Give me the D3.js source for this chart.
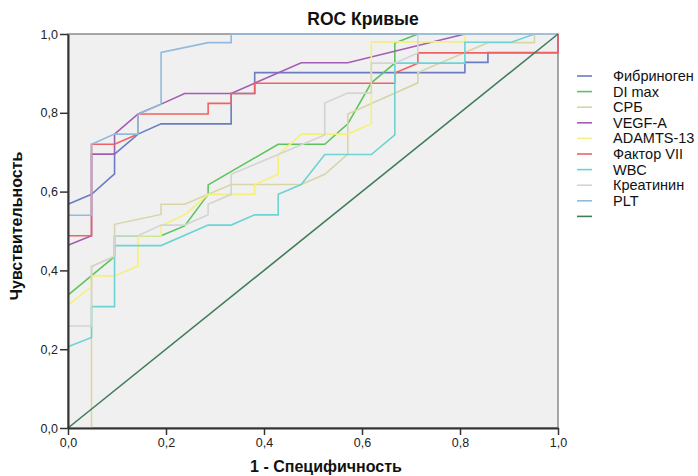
<!DOCTYPE html>
<html>
<head>
<meta charset="utf-8">
<script src="https://cdnjs.cloudflare.com/ajax/libs/d3/7.8.5/d3.min.js"></script>
<style>
    body { margin: 0; background: #fff; }
    svg text { font-family: "Liberation Sans", Arial, sans-serif; }
</style>
</head>
<body>
<svg id="chart" width="698" height="476"></svg>
<script>
    // ROC curves: each series is a list of [1 - specificity, sensitivity]
    const fibrinogen = [[0,0.568],[0.048,0.593],[0.095,0.645],[0.095,0.695],[0.143,0.746],[0.190,0.772],[0.333,0.772],[0.333,0.849],[0.381,0.849],[0.381,0.902],[0.810,0.902],[0.810,0.928],[0.857,0.928],[0.857,0.953],[1,0.953],[1,1]];
    const diMax = [[0,0.337],[0.095,0.435],[0.095,0.488],[0.190,0.488],[0.238,0.513],[0.286,0.593],[0.286,0.617],[0.429,0.720],[0.524,0.720],[0.571,0.772],[0.619,0.876],[0.667,0.926],[0.667,0.977],[0.714,1],[1,1]];
    const crp = [[0,0],[0.048,0],[0.048,0.410],[0.095,0.436],[0.095,0.517],[0.190,0.542],[0.190,0.568],[0.238,0.568],[0.333,0.618],[0.476,0.618],[0.524,0.644],[0.571,0.695],[0.571,0.797],[0.714,0.876],[0.714,0.902],[0.857,0.978],[0.952,0.978],[0.952,1],[1,1]];
    const vegfA = [[0,0.464],[0.048,0.488],[0.048,0.695],[0.095,0.695],[0.095,0.746],[0.143,0.797],[0.190,0.822],[0.238,0.849],[0.333,0.849],[0.476,0.927],[0.571,0.927],[0.810,1],[1,1]];
    const adamts13 = [[0,0.312],[0.048,0.359],[0.048,0.386],[0.095,0.386],[0.143,0.411],[0.143,0.488],[0.190,0.488],[0.190,0.513],[0.238,0.541],[0.286,0.593],[0.381,0.593],[0.381,0.618],[0.429,0.644],[0.429,0.693],[0.476,0.746],[0.571,0.746],[0.619,0.772],[0.619,0.980],[0.810,0.980],[0.810,1],[1,1]];
    const factorVII = [[0,0.488],[0.048,0.488],[0.048,0.720],[0.095,0.720],[0.143,0.746],[0.143,0.797],[0.286,0.797],[0.286,0.824],[0.333,0.824],[0.333,0.849],[0.381,0.849],[0.381,0.875],[0.667,0.875],[0.667,0.901],[0.714,0.926],[0.714,0.952],[1,0.952],[1,1]];
    const wbc = [[0,0.206],[0.048,0.230],[0.048,0.308],[0.095,0.308],[0.095,0.463],[0.190,0.463],[0.286,0.515],[0.333,0.515],[0.381,0.541],[0.429,0.541],[0.429,0.593],[0.476,0.618],[0.524,0.694],[0.619,0.694],[0.667,0.744],[0.667,0.926],[0.810,0.926],[0.810,0.979],[0.905,0.979],[0.952,1],[1,1]];
    const creatinine = [[0,0.259],[0.048,0.259],[0.048,0.410],[0.095,0.436],[0.095,0.488],[0.143,0.488],[0.190,0.515],[0.238,0.515],[0.286,0.541],[0.286,0.568],[0.333,0.593],[0.333,0.644],[0.524,0.744],[0.524,0.825],[0.571,0.850],[0.619,0.850],[0.619,0.926],[0.667,0.926],[0.714,0.952],[0.714,1],[1,1]];
    const pltCount = [[0,0.540],[0.048,0.540],[0.048,0.720],[0.095,0.746],[0.143,0.746],[0.143,0.797],[0.190,0.822],[0.190,0.953],[0.286,0.978],[0.333,0.978],[0.333,1],[1,1]];
    const reference = [[0,0],[1,1]];

    const seriesNames = ['Фибриноген', 'DI max', 'СРБ', 'VEGF-A', 'ADAMTS-13', 'Фактор VII', 'WBC', 'Креатинин', 'PLT', ''];
    const seriesData = [fibrinogen, diMax, crp, vegfA, adamts13, factorVII, wbc, creatinine, pltCount, reference];
    const seriesColors = ['#6b7cc2', '#5cc45c', '#d8d5a8', '#a25db3', '#f5f07c', '#f06262', '#6dd3d3', '#d4d4d4', '#92badd', '#3f7d58'];
    const tickValues = [0, 0.2, 0.4, 0.6, 0.8, 1.0];

    const margin = {left: 68, top: 34, right: 140, bottom: 48};
    const width = 698 - margin.left - margin.right;
    const height = 476 - margin.top - margin.bottom;

    const svg = d3.select('#chart');
    const g = svg.append('g').attr('transform', `translate(${margin.left},${margin.top})`);

    const x = d3.scaleLinear().domain([0, 1]).range([0, width]);
    const y = d3.scaleLinear().domain([0, 1]).range([height, 0]);

    g.append('rect')
        .attr('width', width).attr('height', height)
        .attr('fill', '#f0f0f0')
        .attr('stroke', '#8a8a8a').attr('stroke-width', 1.5);

    const line = d3.line().x(d => x(d[0])).y(d => y(d[1]));

    g.selectAll('path.roc')
        .data(seriesData)
        .join('path')
        .attr('class', 'roc')
        .attr('d', line)
        .attr('fill', 'none')
        .attr('stroke', (d, i) => seriesColors[i])
        .attr('stroke-width', 1.6);

    const fmt = d => d3.format('.1f')(d).replace('.', ',');

    const yAxis = g.append('g')
        .call(d3.axisLeft(y).tickValues(tickValues).tickFormat(fmt).tickSize(8).tickSizeOuter(0).tickPadding(2));
    const xAxis = g.append('g')
        .attr('transform', `translate(0,${height})`)
        .call(d3.axisBottom(x).tickValues(tickValues).tickFormat(fmt).tickSize(7).tickSizeOuter(0).tickPadding(3));

    [yAxis, xAxis].forEach(a => {
        a.select('.domain').attr('stroke', '#333').attr('stroke-width', 2);
        a.selectAll('.tick line').attr('stroke', '#333').attr('stroke-width', 1.5);
        a.selectAll('.tick text').attr('fill', '#222').style('font-size', '12.5px');
    });

    svg.append('text')
        .attr('x', 363).attr('y', 25)
        .attr('text-anchor', 'middle')
        .style('font-size', '17.5px').style('font-weight', 'bold')
        .attr('fill', '#111')
        .text('ROC Кривые');

    svg.append('text')
        .attr('x', 326).attr('y', 472)
        .attr('text-anchor', 'middle')
        .style('font-size', '16px').style('font-weight', 'bold')
        .attr('fill', '#111')
        .text('1 - Специфичность');

    svg.append('text')
        .attr('transform', 'translate(22,226) rotate(-90)')
        .attr('text-anchor', 'middle')
        .style('font-size', '16px').style('font-weight', 'bold')
        .attr('fill', '#111')
        .text('Чувствительность');

    const legend = svg.append('g').attr('transform', 'translate(577,76)');
    const rows = legend.selectAll('g')
        .data(seriesNames)
        .join('g')
        .attr('transform', (d, i) => `translate(0,${i * 15.6})`);
    rows.append('line')
        .attr('x1', 0).attr('x2', 15)
        .attr('stroke', (d, i) => seriesColors[i])
        .attr('stroke-width', 1.6);
    rows.append('text')
        .attr('x', 36).attr('dy', '0.35em')
        .style('font-size', '14.5px')
        .attr('fill', '#111')
        .text(d => d);
</script>
</body>
</html>
